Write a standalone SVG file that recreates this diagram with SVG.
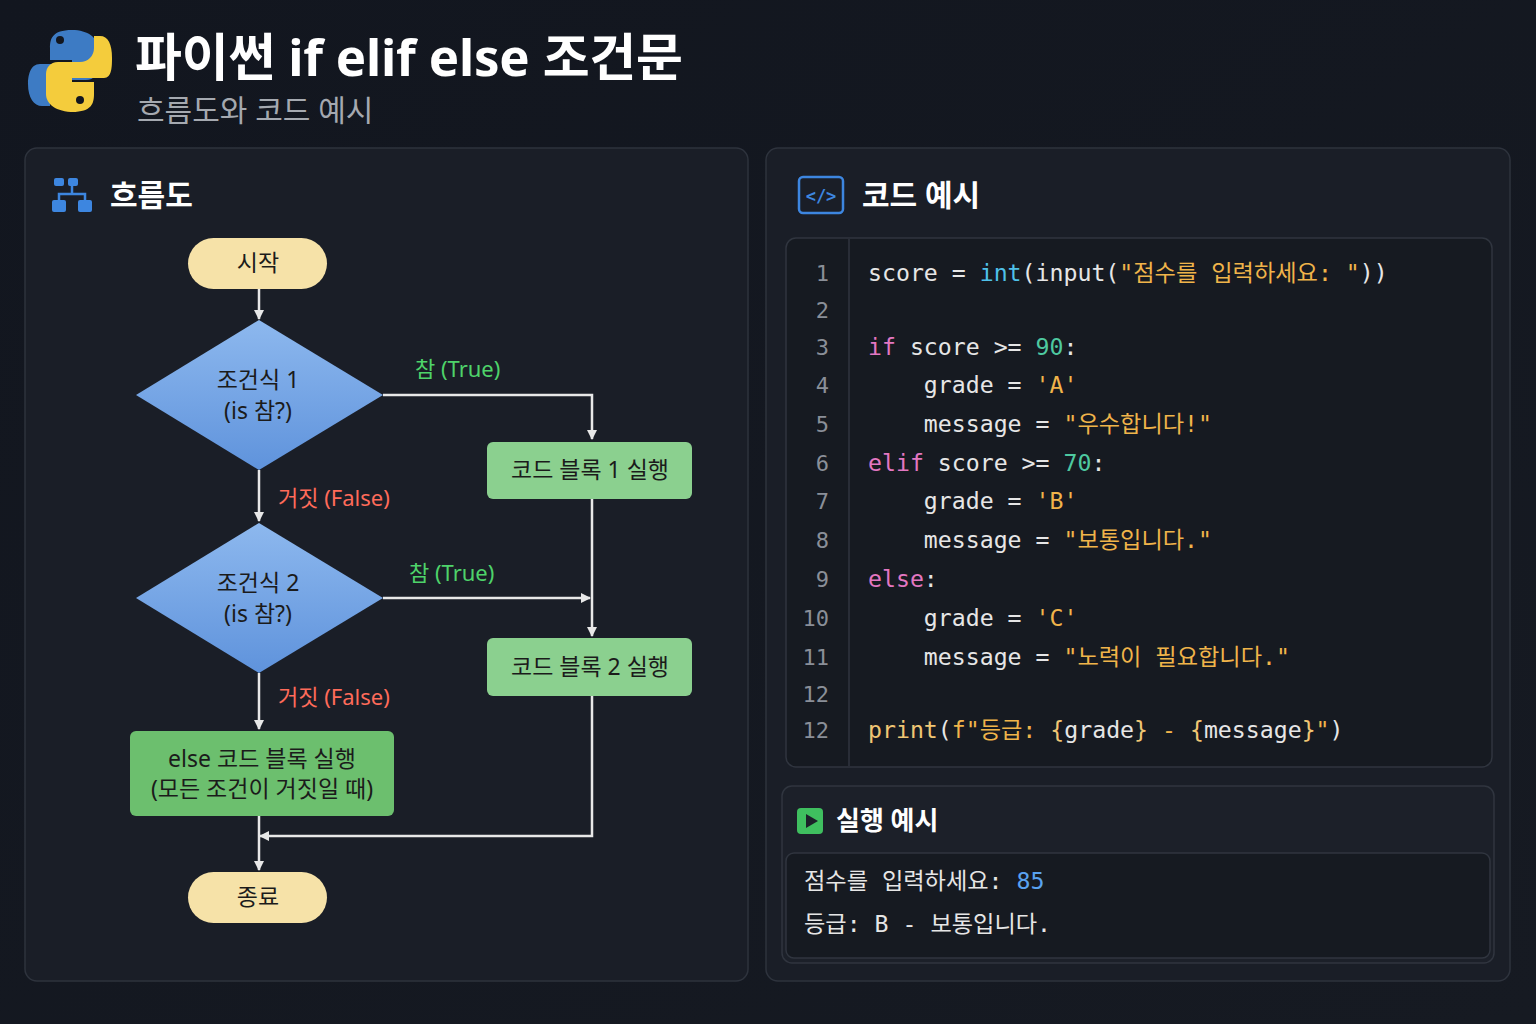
<svg xmlns="http://www.w3.org/2000/svg" width="1536" height="1024" viewBox="0 0 1536 1024">
<defs>
<linearGradient id="bg" x1="0" y1="0" x2="1" y2="1"><stop offset="0" stop-color="#12161f"/><stop offset="1" stop-color="#161a22"/></linearGradient>
<linearGradient id="dia" x1="0" y1="0" x2="0" y2="1"><stop offset="0" stop-color="#8db8ee"/><stop offset="1" stop-color="#5f93dc"/></linearGradient>
<marker id="ah" markerWidth="10" markerHeight="10" refX="9" refY="5" orient="auto" markerUnits="userSpaceOnUse"><path d="M0,0 L10,5 L0,10 z" fill="#e8e8e8"/></marker>
<style>
.panel{fill:#1a1e27;stroke:#2e333d;stroke-width:1.5}
.t{font-family:"Noto Sans","Noto Sans CJK KR",sans-serif}
.pill{fill:#f6e2a8}
.box{fill:#8bd08f}
.dk{fill:#1b1b1b;font-size:23px;text-anchor:middle}
.ln{stroke:#e8e8e8;stroke-width:2.5;fill:none;marker-end:url(#ah)}
.tr{fill:#4ed36a;font-size:22px}
.fa{fill:#ff6b5a;font-size:22px}
.code{font-family:"DejaVu Sans Mono","Noto Sans CJK KR",monospace;font-size:23.2px;fill:#e6e6e6}
.num{font-family:"DejaVu Sans Mono",monospace;font-size:22px;fill:#8a8f98;text-anchor:end}
.kw{fill:#e377c2}.bi{fill:#4fc1e9}.st{fill:#f0b44a}.nm{fill:#4ec9a0}.fn{fill:#f0c674}
</style>
</defs>
<rect width="1536" height="1024" fill="url(#bg)"/>
<g id="header">
<path d="M72,30 c-20,0 -22,9 -22,18 v12 h22 v4 h-32 c-10,0 -12,12 -12,20 c0,14 6,22 14,22 h8 v-12 c0,-8 6,-14 14,-14 h22 c8,0 12,-6 12,-12 v-20 c0,-10 -10,-18 -26,-18z" fill="#3d7bc4"/>
<path d="M72,112 c20,0 22,-9 22,-18 v-12 h-22 v-4 h32 c8,0 8,-12 8,-20 c0,-14 -4,-22 -12,-22 h-6 v12 c0,8 -6,14 -14,14 h-22 c-8,0 -12,6 -12,12 v20 c0,10 10,18 28,18z" fill="#f4cc3c"/>
<circle cx="60" cy="40" r="4" fill="#12161f"/><circle cx="80" cy="100" r="4" fill="#12161f"/>
<text x="135" y="76" class="t" font-size="51" font-weight="700" fill="#ffffff" textLength="548">파이썬 if elif else 조건문</text>
<text x="137" y="121" class="t" font-size="30" fill="#a5a9b0">흐름도와 코드 예시</text>
</g>
<rect class="panel" x="25" y="148" width="723" height="833" rx="12"/>
<rect class="panel" x="766" y="148" width="744" height="833" rx="12"/>
<g id="flow-title">
<g fill="#3d86e0"><rect x="54" y="178" width="10" height="8" rx="2"/><rect x="68" y="178" width="10" height="8" rx="2"/><rect x="52" y="200" width="14" height="12" rx="2"/><rect x="78" y="200" width="14" height="12" rx="2"/></g>
<path d="M72,186 v8 M59,200 v-6 h26 v6" stroke="#3d86e0" stroke-width="2.5" fill="none"/>
<text x="110" y="206" class="t" font-size="30" font-weight="700" fill="#fff">흐름도</text>
</g>
<g id="connectors">
<path class="ln" d="M259,289 V319"/>
<path class="ln" d="M383,395 H592 V439"/>
<path class="ln" d="M259,470 V521"/>
<path class="ln" d="M383,598 H590"/>
<path class="ln" d="M592,499 V636"/>
<path class="ln" d="M259,673 V729"/>
<path class="ln" d="M259,816 V870"/>
<path class="ln" d="M592,696 V836 H260"/>
<text x="415" y="377" class="t tr">참 (True)</text>
<text x="409" y="581" class="t tr">참 (True)</text>
<text x="278" y="506" class="t fa">거짓 (False)</text>
<text x="278" y="705" class="t fa">거짓 (False)</text>
</g>
<g id="start"><rect class="pill" x="188" y="238" width="139" height="51" rx="25.5"/><text x="258" y="271" class="t dk">시작</text></g>
<g id="cond1"><polygon points="259,320 383,395 259,470 136,395" fill="url(#dia)"/><text x="258" y="388" class="t dk">조건식 1</text><text x="258" y="419" class="t dk">(is 참?)</text></g>
<g id="block1"><rect class="box" x="487" y="442" width="205" height="57" rx="6"/><text x="590" y="478" class="t dk">코드 블록 1 실행</text></g>
<g id="cond2"><polygon points="259,523 383,598 259,673 136,598" fill="url(#dia)"/><text x="258" y="591" class="t dk">조건식 2</text><text x="258" y="622" class="t dk">(is 참?)</text></g>
<g id="block2"><rect class="box" x="487" y="638" width="205" height="58" rx="6"/><text x="590" y="675" class="t dk">코드 블록 2 실행</text></g>
<g id="else"><rect x="130" y="731" width="264" height="85" rx="6" fill="#6cbf6e"/><text x="262" y="767" class="t dk">else 코드 블록 실행</text><text x="262" y="797" class="t dk">(모든 조건이 거짓일 때)</text></g>
<g id="end"><rect class="pill" x="188" y="872" width="139" height="51" rx="25.5"/><text x="258" y="905" class="t dk">종료</text></g>
<g id="code-title">
<rect x="799" y="177" width="44" height="36" rx="4" fill="none" stroke="#3d86e0" stroke-width="2.5"/>
<text x="821" y="202" font-family="DejaVu Sans Mono,monospace" font-size="17" font-weight="700" fill="#3d86e0" text-anchor="middle">&lt;/&gt;</text>
<text x="862" y="206" class="t" font-size="30" font-weight="700" fill="#fff">코드 예시</text>
</g>
<g id="code">
<rect x="786" y="238" width="706" height="529" rx="10" fill="#161a21" stroke="#30353f" stroke-width="1.5"/>
<line x1="849" y1="239" x2="849" y2="766" stroke="#30353f" stroke-width="1.5"/>
<text class="num" x="829" y="281">1</text><text class="num" x="829" y="318">2</text><text class="num" x="829" y="355">3</text><text class="num" x="829" y="393">4</text><text class="num" x="829" y="432">5</text><text class="num" x="829" y="471">6</text><text class="num" x="829" y="509">7</text><text class="num" x="829" y="548">8</text><text class="num" x="829" y="587">9</text><text class="num" x="829" y="626">10</text><text class="num" x="829" y="665">11</text><text class="num" x="829" y="702">12</text><text class="num" x="829" y="738">12</text>
<text class="code" x="868" y="281" xml:space="preserve">score = <tspan class="bi">int</tspan>(input(<tspan class="st">"점수를 입력하세요: "</tspan>))</text>
<text class="code" x="868" y="355" xml:space="preserve"><tspan class="kw">if</tspan> score &gt;= <tspan class="nm">90</tspan>:</text>
<text class="code" x="868" y="393" xml:space="preserve">    grade = <tspan class="st">'A'</tspan></text>
<text class="code" x="868" y="432" xml:space="preserve">    message = <tspan class="st">"우수합니다!"</tspan></text>
<text class="code" x="868" y="471" xml:space="preserve"><tspan class="kw">elif</tspan> score &gt;= <tspan class="nm">70</tspan>:</text>
<text class="code" x="868" y="509" xml:space="preserve">    grade = <tspan class="st">'B'</tspan></text>
<text class="code" x="868" y="548" xml:space="preserve">    message = <tspan class="st">"보통입니다."</tspan></text>
<text class="code" x="868" y="587" xml:space="preserve"><tspan class="kw">else</tspan>:</text>
<text class="code" x="868" y="626" xml:space="preserve">    grade = <tspan class="st">'C'</tspan></text>
<text class="code" x="868" y="665" xml:space="preserve">    message = <tspan class="st">"노력이 필요합니다."</tspan></text>
<text class="code" x="868" y="738" xml:space="preserve"><tspan class="fn">print</tspan>(<tspan class="st">f"등급: </tspan><tspan class="fn">{</tspan>grade<tspan class="fn">}</tspan><tspan class="st"> - </tspan><tspan class="fn">{</tspan>message<tspan class="fn">}</tspan><tspan class="st">"</tspan>)</text>
</g>
<g id="run">
<rect x="782" y="786" width="712" height="177" rx="10" fill="#1c2029" stroke="#30353f" stroke-width="1.5"/>
<rect x="797" y="808" width="26" height="26" rx="4" fill="#3fbf5f"/><path d="M806,814 L818,821 L806,828 z" fill="#1c2029"/>
<text x="836" y="830" class="t" font-size="26" font-weight="700" fill="#fff">실행 예시</text>
<rect x="786" y="853" width="704" height="105" rx="8" fill="#161a21" stroke="#30353f" stroke-width="1.5"/>
<text class="code" x="804" y="889" xml:space="preserve">점수를 입력하세요: <tspan fill="#5aa2f0">85</tspan></text>
<text class="code" x="804" y="932" xml:space="preserve">등급: B - 보통입니다.</text>
</g>
</svg>
